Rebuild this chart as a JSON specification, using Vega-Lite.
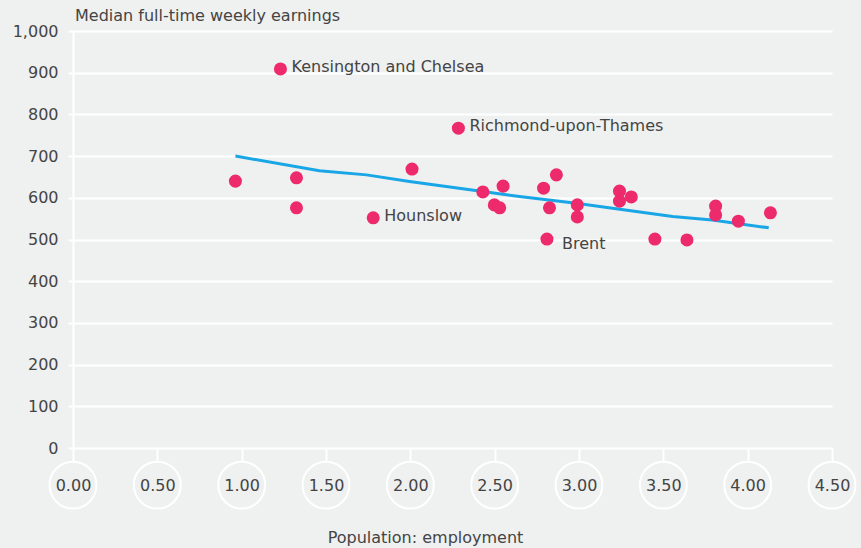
{
  "$schema": "https://vega.github.io/schema/vega-lite/v6.json",
  "autosize": "none",
  "width": 764,
  "height": 417,
  "padding": {"left": 73, "top": 31, "right": 24, "bottom": 100},
  "background": "#eff0f0",
  "config": {
    "view": {"stroke": null},
    "font": "DejaVu Sans",
    "title": {"font": "DejaVu Sans", "fontSize": 16, "fontWeight": "normal", "color": "#444444", "anchor": "start", "frame": "group", "offset": -1}
  },
  "title": {"text": "Median full-time weekly earnings", "dx": 2},
  "datasets": {
    "boroughs": [
      {"pop_emp": 0.963, "earnings": 640, "label": ""},
      {"pop_emp": 1.23, "earnings": 909, "label": "Kensington and Chelsea"},
      {"pop_emp": 1.325, "earnings": 648, "label": ""},
      {"pop_emp": 1.325, "earnings": 576, "label": ""},
      {"pop_emp": 1.78, "earnings": 552, "label": "Hounslow"},
      {"pop_emp": 2.01, "earnings": 669, "label": ""},
      {"pop_emp": 2.285, "earnings": 767, "label": "Richmond-upon-Thames"},
      {"pop_emp": 2.43, "earnings": 614, "label": ""},
      {"pop_emp": 2.498, "earnings": 583, "label": ""},
      {"pop_emp": 2.53, "earnings": 576, "label": ""},
      {"pop_emp": 2.55, "earnings": 628, "label": ""},
      {"pop_emp": 2.79, "earnings": 623, "label": ""},
      {"pop_emp": 2.825, "earnings": 576, "label": ""},
      {"pop_emp": 2.81, "earnings": 501, "label": "Brent"},
      {"pop_emp": 2.866, "earnings": 655, "label": ""},
      {"pop_emp": 2.99, "earnings": 583, "label": ""},
      {"pop_emp": 2.99, "earnings": 554, "label": ""},
      {"pop_emp": 3.24, "earnings": 616, "label": ""},
      {"pop_emp": 3.24, "earnings": 592, "label": ""},
      {"pop_emp": 3.31, "earnings": 602, "label": ""},
      {"pop_emp": 3.45, "earnings": 501, "label": ""},
      {"pop_emp": 3.64, "earnings": 499, "label": ""},
      {"pop_emp": 3.81, "earnings": 580, "label": ""},
      {"pop_emp": 3.81, "earnings": 559, "label": ""},
      {"pop_emp": 3.945, "earnings": 544, "label": ""},
      {"pop_emp": 4.135, "earnings": 564, "label": ""}
    ],
    "trend": [
      {"pop_emp": 0.963, "earnings": 700},
      {"pop_emp": 1.461, "earnings": 665},
      {"pop_emp": 1.74, "earnings": 655},
      {"pop_emp": 1.995, "earnings": 639},
      {"pop_emp": 2.43, "earnings": 615},
      {"pop_emp": 2.647, "earnings": 603},
      {"pop_emp": 2.983, "earnings": 587},
      {"pop_emp": 3.555, "earnings": 555},
      {"pop_emp": 3.79, "earnings": 547},
      {"pop_emp": 4.125, "earnings": 528}
    ],
    "ticks": [
      {"pop_emp": 0}, {"pop_emp": 0.5}, {"pop_emp": 1}, {"pop_emp": 1.5}, {"pop_emp": 2},
      {"pop_emp": 2.5}, {"pop_emp": 3}, {"pop_emp": 3.5}, {"pop_emp": 4}, {"pop_emp": 4.5}
    ]
  },
  "layer": [
    {
      "data": {"name": "ticks"},
      "mark": {"type": "point", "shape": "circle", "filled": false, "fill": "#eff0f0", "fillOpacity": 1, "stroke": "#ffffff", "strokeWidth": 2, "size": 2200, "opacity": 1, "clip": false},
      "encoding": {
        "x": {"field": "pop_emp", "type": "quantitative",
              "scale": {"domain": [0, 4.5], "range": [0, 759], "nice": false, "zero": false},
              "axis": {
                "title": "Population: employment",
                "values": [0, 0.5, 1, 1.5, 2, 2.5, 3, 3.5, 4, 4.5],
                "format": ".2f",
                "grid": false,
                "domain": false,
                "ticks": true,
                "tickColor": "#ffffff",
                "tickWidth": 2,
                "tickSize": 14,
                "labelFlush": false,
                "labelOverlap": false,
                "labelBaseline": "middle",
                "labelPadding": 23,
                "labelFontSize": 16,
                "labelColor": "#444444",
                "labelFont": "DejaVu Sans",
                "titleFontSize": 16,
                "titleFontWeight": "normal",
                "titleColor": "#444444",
                "titleFont": "DejaVu Sans",
                "titleX": 352,
                "titleY": 89,
                "titleBaseline": "middle",
                "zindex": 1
              }},
        "y": {"datum": -89, "type": "quantitative"}
      }
    },
    {
      "data": {"name": "trend"},
      "mark": {"type": "line", "color": "#18a6e6", "strokeWidth": 3},
      "encoding": {
        "x": {"field": "pop_emp", "type": "quantitative"},
        "y": {"field": "earnings", "type": "quantitative",
              "scale": {"domain": [0, 1000], "nice": false},
              "axis": {
                "title": null,
                "values": [0, 100, 200, 300, 400, 500, 600, 700, 800, 900, 1000],
                "format": ",d",
                "grid": true,
                "gridColor": "#ffffff",
                "gridWidth": 2,
                "gridOpacity": 1,
                "domain": true,
                "domainColor": "#ffffff",
                "domainWidth": 2,
                "tickColor": "#ffffff",
                "tickWidth": 2,
                "tickSize": 5,
                "labelPadding": 10,
                "labelFontSize": 16,
                "labelColor": "#444444",
                "labelFont": "DejaVu Sans"
              }}
      }
    },
    {
      "data": {"name": "boroughs"},
      "mark": {"type": "point", "shape": "circle", "filled": true, "color": "#ec2a6c", "opacity": 1, "size": 170},
      "encoding": {
        "x": {"field": "pop_emp", "type": "quantitative"},
        "y": {"field": "earnings", "type": "quantitative"}
      }
    },
    {
      "data": {"name": "boroughs"},
      "transform": [{"filter": "datum.label !== '' && datum.label !== 'Brent'"}],
      "mark": {"type": "text", "align": "left", "baseline": "middle", "dx": 11, "dy": -2, "fontSize": 16, "color": "#444444", "font": "DejaVu Sans"},
      "encoding": {
        "x": {"field": "pop_emp", "type": "quantitative"},
        "y": {"field": "earnings", "type": "quantitative"},
        "text": {"field": "label"}
      }
    },
    {
      "data": {"name": "boroughs"},
      "transform": [{"filter": "datum.label === 'Brent'"}],
      "mark": {"type": "text", "align": "left", "baseline": "middle", "dx": 15, "dy": 5, "fontSize": 16, "color": "#444444", "font": "DejaVu Sans"},
      "encoding": {
        "x": {"field": "pop_emp", "type": "quantitative"},
        "y": {"field": "earnings", "type": "quantitative"},
        "text": {"field": "label"}
      }
    }
  ]
}
